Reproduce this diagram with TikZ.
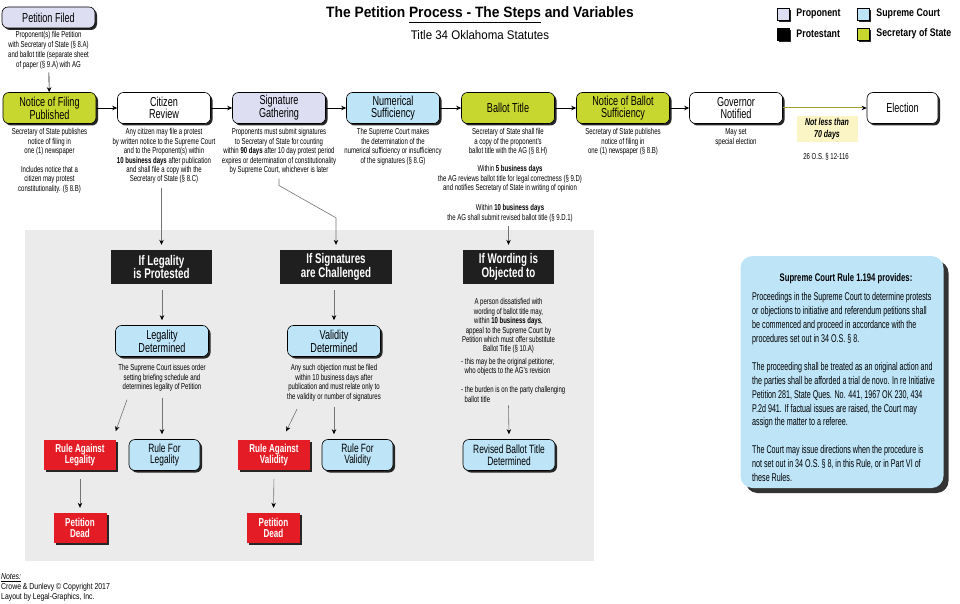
\documentclass[tikz,border=0pt]{standalone}
\usepackage{fontspec}
\setmainfont[FakeStretch=0.7]{Liberation Sans}
\newfontfamily\headfont[FakeStretch=0.92]{Liberation Sans}
\newfontfamily\legendfont[FakeStretch=0.8]{Liberation Sans}
\newfontfamily\rulefont[FakeStretch=0.64]{Liberation Sans}
\usetikzlibrary{calc,arrows.meta,positioning,shadows}

\definecolor{sosgreen}{RGB}{200,214,48}
\definecolor{propviolet}{RGB}{222,222,242}
\definecolor{courtblue}{RGB}{190,228,247}
\definecolor{deadred}{RGB}{228,28,38}
\definecolor{panelgray}{RGB}{235,235,236}
\definecolor{daysyellow}{RGB}{251,245,197}
\definecolor{daysline}{RGB}{165,160,40}

\tikzset{
  boxshadow/.style={drop shadow={opacity=1,fill=black!85,shadow xshift=2pt,shadow yshift=-2pt}},
  stepbox/.style={draw=black,line width=.6pt,rounded corners=6pt,boxshadow,
    minimum width=93pt,minimum height=31pt,inner sep=1pt,align=center,
    font=\fontsize{13}{12}\selectfont},
  ifbox/.style={fill=black!88,text=white,minimum height=34pt,inner sep=1pt,align=center,
    font=\bfseries\fontsize{14}{13.5}\selectfont},
  deadbox/.style={fill=deadred,text=white,boxshadow,minimum height=30pt,inner sep=1pt,
    align=center,font=\bfseries\fontsize{11.5}{11.5}\selectfont},
  rulebox/.style={stepbox,fill=courtblue,minimum width=71pt,font=\fontsize{12}{11.5}\selectfont},
  desc/.style={anchor=north,align=center,inner sep=0pt,font=\fontsize{8.6}{9.4}\selectfont},
  flow/.style={draw=black!55,line width=.6pt,shorten >=5pt,
    -{Stealth[length=5pt,width=4.5pt,color=black]}},
  steparrow/.style={draw=black,line width=.6pt,-{Stealth[length=5pt,width=4.5pt]}},
  legendsq/.style={draw=black,line width=.5pt,boxshadow,minimum size=12pt,inner sep=0pt},
  legendtxt/.style={anchor=west,inner sep=0pt,font=\legendfont\bfseries\fontsize{11}{11}\selectfont}
}

\begin{document}
\begin{tikzpicture}[x=1pt,y=-1pt]
\useasboundingbox (0,0) rectangle (960,604);

	%% grey panel behind the protest branches
	\fill[panelgray] (25,230) rectangle (594,561);

	%% title and legend
	\node[font=\headfont\bfseries\fontsize{15}{15}\selectfont] (title) at (480,15)
	  {The Petition \underline{Process - The Steps} and Variables};
	\node[font=\headfont\fontsize{12.5}{12.5}\selectfont] (subtitle) at (480,35)
	  {Title 34 Oklahoma Statutes};

	\foreach \col/\lbl/\px/\py [count=\i] in {propviolet/Proponent/783/14,
	    black/Protestant/783/34, courtblue/Supreme Court/863/14,
	    sosgreen/Secretary of State/863/34}
	{
	  \node[legendsq,fill=\col] (leg\i) at (\px,\py) {};
	  \node[legendtxt] (legtxt\i) at ([xshift=7pt]leg\i.east) {\lbl};
	}

	%% main row of steps
	\node[stepbox,fill=propviolet,minimum height=21pt] (filed) at (48.5,17.5) {Petition Filed};
	\node[desc,font=\fontsize{8.6}{9.8}\selectfont] (filedtxt) at (48.5,31.5)
	  {Proponent(s) file Petition\\with Secretary of State (§ 8.A)\\and ballot title (separate sheet\\of paper (§ 9.A) with AG};

	\node[stepbox,fill=sosgreen] (notice) at (49.5,108) {Notice of Filing\\Published};
	\node[stepbox,fill=white] (review) at (164,108) {Citizen\\Review};
	\node[stepbox,fill=propviolet] (gather) at (279,108) {Signature\\Gathering};
	\node[stepbox,fill=courtblue] (numsuf) at (393,108) {Numerical\\Sufficiency};
	\node[stepbox,fill=sosgreen] (ballot) at (508,108) {Ballot Title};
	\node[stepbox,fill=sosgreen] (balsuf) at (623,108) {Notice of Ballot\\Sufficiency};
	\node[stepbox,fill=white] (governor) at (736,108) {Governor\\Notified};
	\node[stepbox,fill=white,minimum width=71pt] (election) at (902.5,108) {Election};

	\draw[steparrow,shorten <=3pt] (filedtxt) -- (notice);
	\foreach \a/\b in {notice/review,review/gather,gather/numsuf,numsuf/ballot,
	    ballot/balsuf,balsuf/governor}
	  \draw[steparrow] (\a) -- (\b);
	\draw[daysline,line width=1pt,-{Stealth[length=5pt,width=4.5pt,color=black]}]
	  (governor) -- (election);

	% texts under the steps
	\node[desc] (noticetxt) at (49.5,128.5) {Secretary of State publishes\\notice of filing in\\one (1) newspaper\\[9.4pt]Includes notice that a\\citizen may protest\\constitutionality. (§ 8.B)};
	\node[desc] (reviewtxt) at (164,128.5) {Any citizen may file a protest\\by written notice to the Supreme Court\\and to the Proponent(s) within\\\textbf{10 business days} after publication\\and shall file a copy with the\\Secretary of State (§ 8.C)};
	\node[desc] (gathertxt) at (279,128.5) {Proponents must submit signatures\\to Secretary of State for counting\\within \textbf{90 days} after 10 day protest period\\expires or determination of constitutionality\\by Supreme Court, whichever is later};
	\node[desc] (numsuftxt) at (393,128.5) {The Supreme Court makes\\the determination of the\\numerical sufficiency or insufficiency\\of the signatures (§ 8.G)};
	\node[desc] (ballottxt) at (508,128.5) {Secretary of State shall file\\a copy of the proponent's\\ballot title with the AG (§ 8.H)};
	\node[desc] (agreview) at (510,165.5) {Within \textbf{5 business days}\\the AG reviews ballot title for legal correctness (§ 9.D)\\and notifies Secretary of State in writing of opinion};
	\node[desc] (agrevise) at (510,204.5) {Within \textbf{10 business days}\\the AG shall submit revised ballot title (§ 9.D.1)};
	\node[desc] (balsuftxt) at (623,128.5) {Secretary of State publishes\\notice of filing in\\one (1) newspaper (§ 8.B)};
	\node[desc] (governortxt) at (736,128.5) {May set\\special election};
	\node[fill=daysyellow,minimum width=61pt,minimum height=26pt,inner sep=0pt,align=center,
	  font=\bfseries\itshape\fontsize{10}{12}\selectfont] (days) at (827,129) {Not less than\\70 days};
	\node[desc] (statute) at (826,153.5) {26 O.S. § 12-116};

	%% the three protest branches
	\node[ifbox,minimum width=101pt] (legality) at (161.5,267) {If Legality\\is Protested};
	\node[ifbox,minimum width=112pt] (signatures) at (336,267) {If Signatures\\are Challenged};
	\node[ifbox,minimum width=91pt] (wording) at (508.5,267) {If Wording is\\Objected to};

	\draw[flow] ($(reviewtxt.south -| legality.north)+(0,4)$) -- (legality.north);
	\draw[flow] ($(gathertxt.south)+(0,4)$) -- ++(0,7)
	  -- ($(signatures.north)+(0,-32)$) -- (signatures.north);
	\draw[flow] ($(agrevise.south -| wording.north)+(0,4)$) -- (wording.north);

	\node[stepbox,fill=courtblue] (legdet) at (162,341) {Legality\\Determined};
	\node[stepbox,fill=courtblue] (valdet) at (334,341) {Validity\\Determined};
	\draw[flow,shorten <=6pt] (legality.south -| legdet) -- (legdet.north);
	\draw[flow,shorten <=6pt] (signatures.south -| valdet) -- (valdet.north);

	\node[desc] (legdettxt) at (162,364.5) {The Supreme Court issues order\\setting briefing schedule and\\determines legality of Petition};
	\node[desc] (valdettxt) at (334,364.5) {Any such objection must be filed\\within 10 business days after\\publication and must relate only to\\the validity or number of signatures};
	\node[desc] (wordtxt) at (508.5,298.5) {A person dissatisfied with\\wording of ballot title may,\\within \textbf{10 business days},\\appeal to the Supreme Court by\\Petition which must offer substitute\\Ballot Title (§ 10.A)};
	\node[desc,anchor=north west,align=left] (wordnote) at (461,358) {- this may be the original petitioner,\\\hspace*{3.5pt}who objects to the AG's revision\\[9.4pt]- the burden is on the party challenging\\\hspace*{3.5pt}ballot title};

	% outcomes
	\node[deadbox,minimum width=72pt] (legagainst) at (80,455) {Rule Against\\Legality};
	\node[rulebox] (legfor) at (164.5,455) {Rule For\\Legality};
	\node[deadbox,minimum width=72pt] (valagainst) at (274,455) {Rule Against\\Validity};
	\node[rulebox] (valfor) at (357.5,455) {Rule For\\Validity};
	\node[rulebox,minimum width=92pt] (revised) at (509,455) {Revised Ballot Title\\Determined};
	\node[deadbox,minimum width=53pt] (legdead) at (80,528) {Petition\\Dead};
	\node[deadbox,minimum width=53pt] (valdead) at (273.5,528) {Petition\\Dead};

	\draw[flow] ($(legdettxt.south)+(0,6)$) -- (legdettxt.south |- legfor.north);
	\draw[flow] ($(valdettxt.south)+(0,6)$) -- (valdettxt.south |- valfor.north);
	\draw[flow] ($(legdettxt.south)+(-35,8)$) -- ($(legagainst.north)+(34,-4)$);
	\draw[flow] ($(valdettxt.south)+(-37,8)$) -- ($(valagainst.north)+(10,-4)$);
	\draw[flow] ($(wordnote.south -| wording.south)+(0,3)$) -- (revised.north);
	\draw[flow,shorten <=9pt] (legagainst.south) -- (legdead.north);
	\draw[flow,shorten <=9pt] (valagainst.south) -- (valdead.north);

	%% Supreme Court Rule 1.194
	\node[fill=courtblue,rounded corners=12pt,minimum width=203pt,minimum height=232pt,
	  drop shadow={opacity=1,fill=black!80,shadow xshift=5pt,shadow yshift=-5pt}]
	  (rule) at (842,372) {};
	\node[font=\bfseries\fontsize{11}{11}\selectfont] (ruletitle) at (846,279)
	  {Supreme Court Rule 1.194 provides:};
	\node[anchor=north west,align=left,inner sep=0pt,font=\rulefont\fontsize{11.2}{13.9}\selectfont]
	  (ruletext) at (752,292.5) {Proceedings in the Supreme Court to determine protests\\or objections to initiative and referendum petitions shall\\be commenced and proceed in accordance with the\\procedures set out in 34 O.S. § 8.\\[13.9pt]The proceeding shall be treated as an original action and\\the parties shall be afforded a trial de novo. In re Initiative\\Petition 281, State Ques. No. 441, 1967 OK 230, 434\\P.2d 941. If factual issues are raised, the Court may\\assign the matter to a referee.\\[13.9pt]The Court may issue directions when the procedure is\\not set out in 34 O.S. § 8, in this Rule, or in Part VI of\\these Rules.};

	%% notes
	\node[anchor=west,inner sep=0pt,font=\legendfont\itshape\fontsize{8.6}{8.6}\selectfont]
	  (notes) at (1,578) {\underline{Notes:}};
	\node[anchor=north west,align=left,inner sep=0pt,font=\legendfont\fontsize{8.6}{9.7}\selectfont]
	  (credits) at (1,583.5) {Crowe \& Dunlevy © Copyright 2017\\Layout by Legal-Graphics, Inc.};
\end{tikzpicture}
\end{document}
